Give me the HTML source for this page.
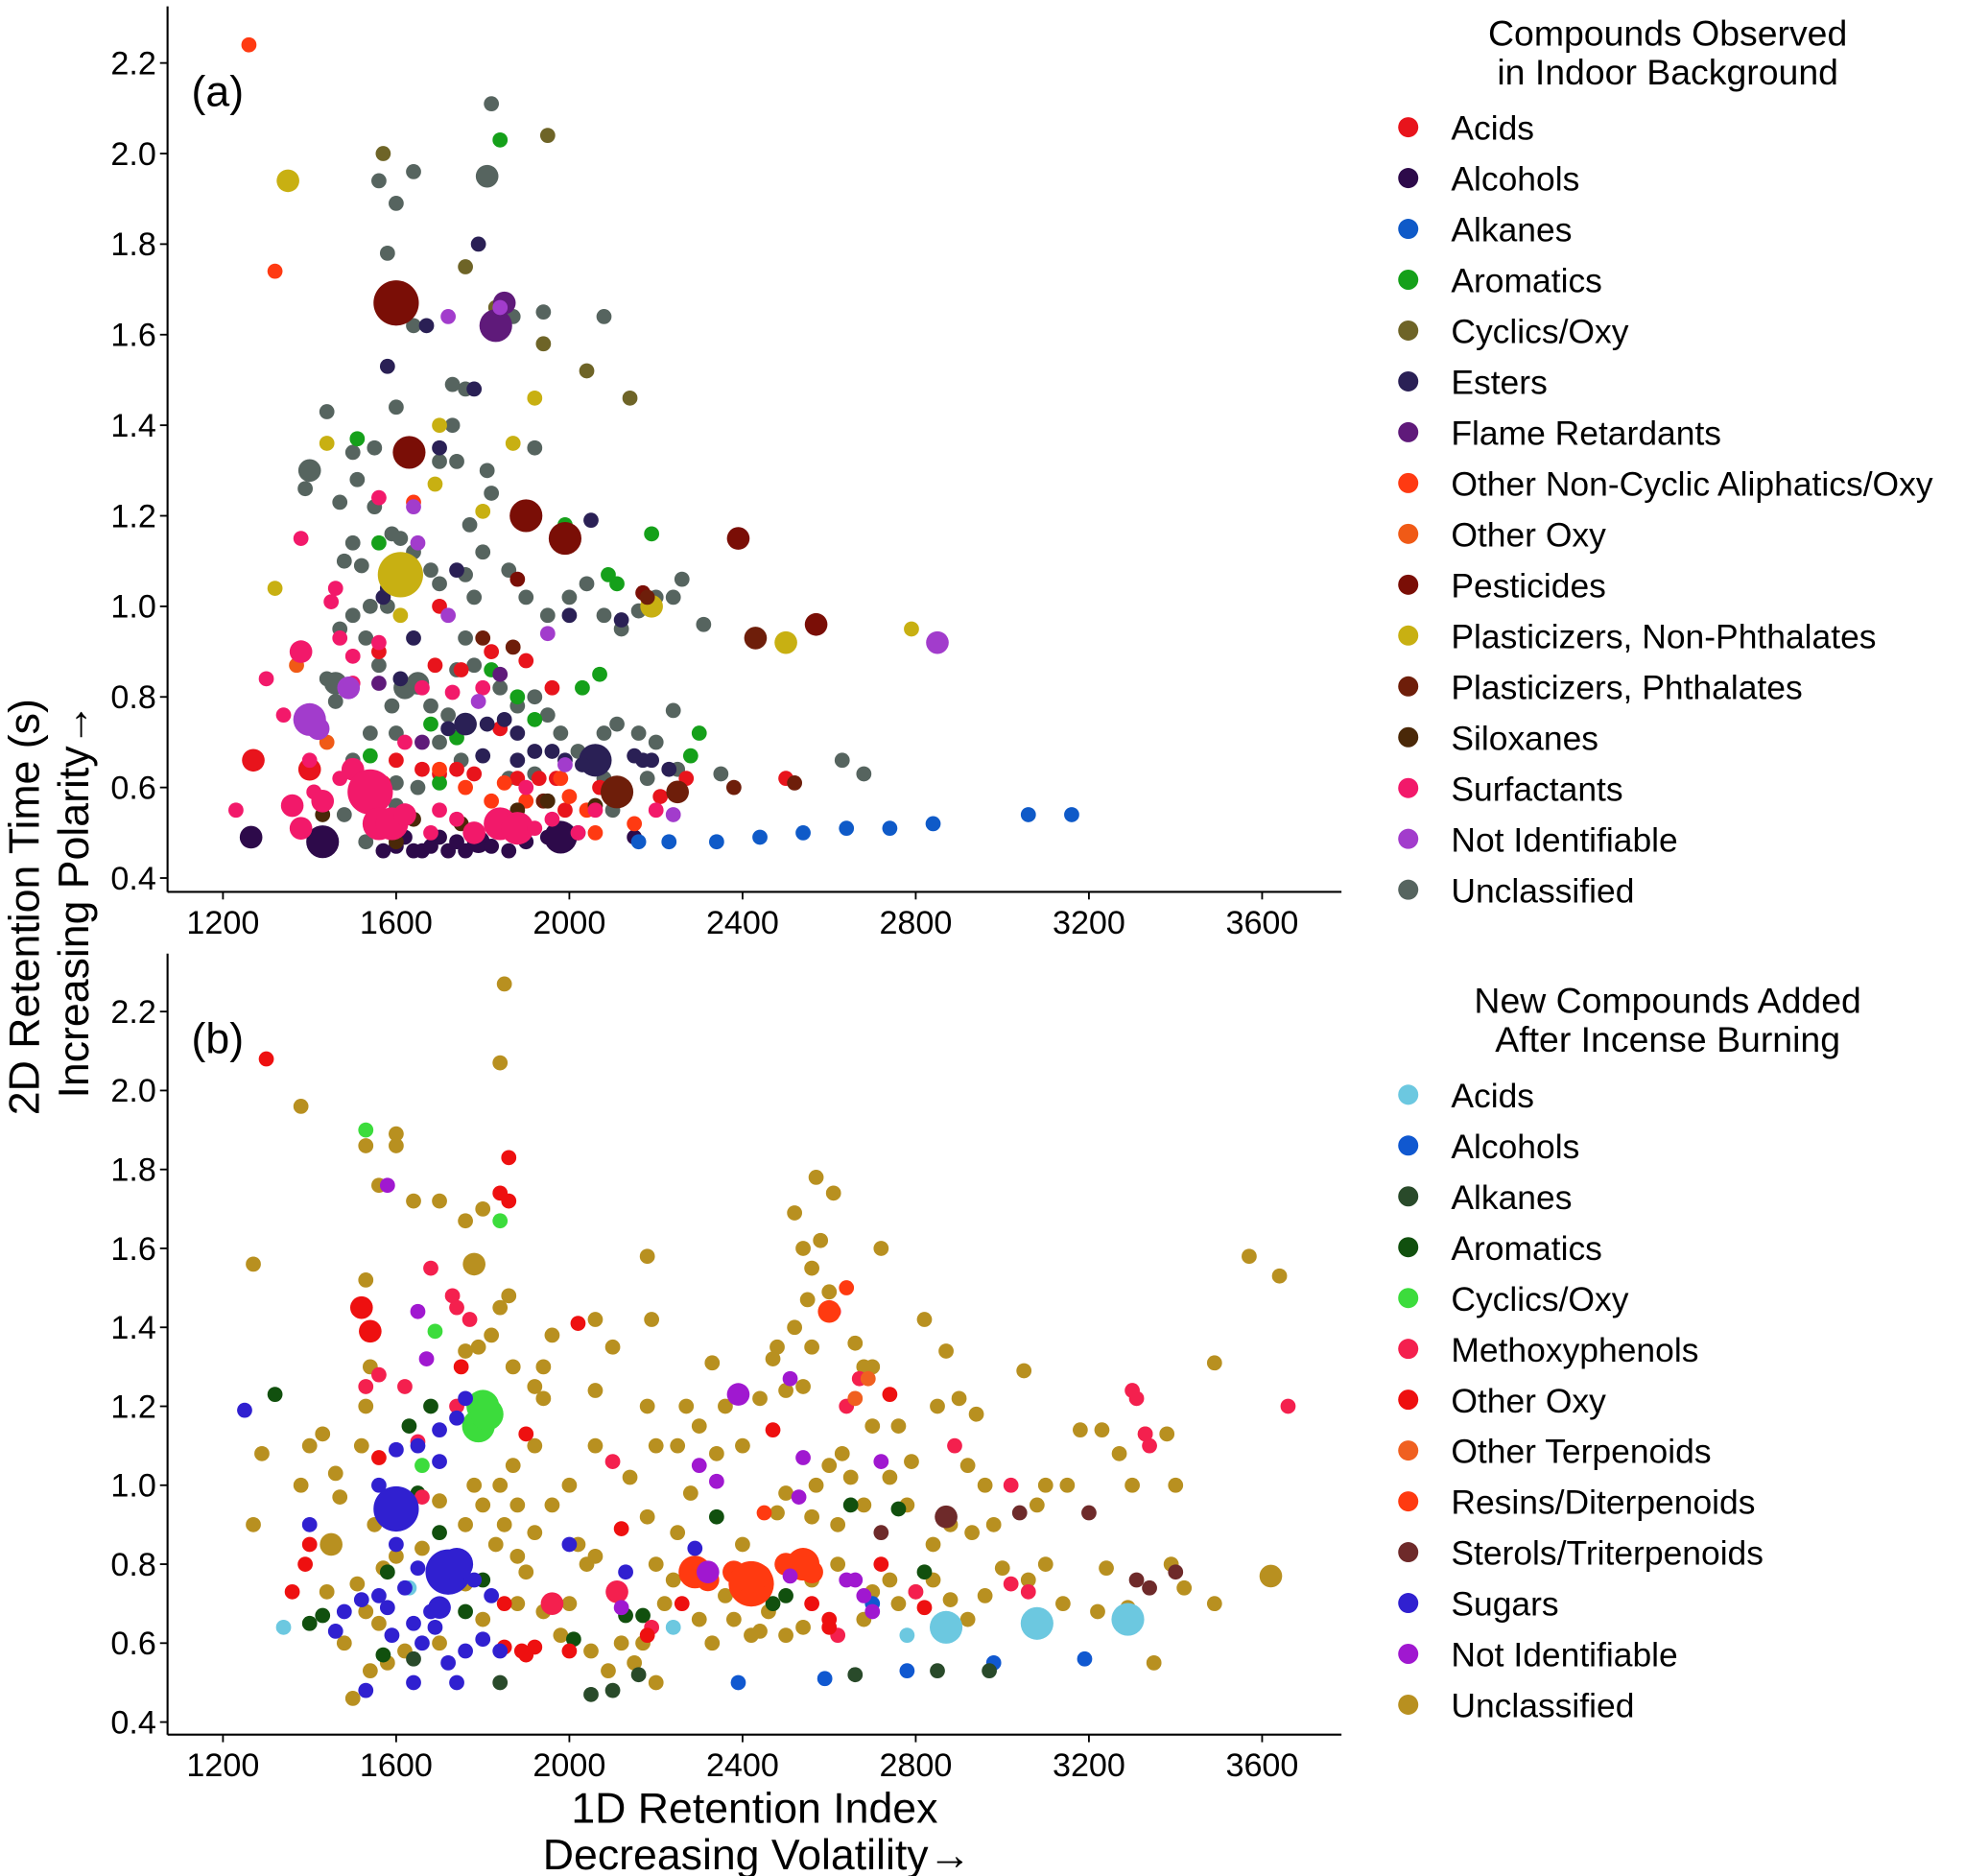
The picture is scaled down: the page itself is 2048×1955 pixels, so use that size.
<!DOCTYPE html>
<html><head><meta charset="utf-8"><style>
html,body{margin:0;padding:0;background:#fff;}
svg{display:block;font-family:"Liberation Sans",sans-serif;}
</style></head><body>
<svg id="chart" width="2048" height="1955" viewBox="0 0 1560 1489.2" xmlns="http://www.w3.org/2000/svg">
<rect width="1560" height="1489.2" fill="#fff"/>
<g id="g"></g>
</svg>
<script>
// ---------- data ----------
const xTicks = [1200,1600,2000,2400,2800,3200,3600];
const yTicks = [0.4,0.6,0.8,1.0,1.2,1.4,1.6,1.8,2.0,2.2];
const yTickLabels = ["0.4","0.6","0.8","1.0","1.2","1.4","1.6","1.8","2.0","2.2"];

const catsA = ["Acids","Alcohols","Alkanes","Aromatics","Cyclics/Oxy","Esters","Flame Retardants","Other Non-Cyclic Aliphatics/Oxy","Other Oxy","Pesticides","Plasticizers, Non-Phthalates","Plasticizers, Phthalates","Siloxanes","Surfactants","Not Identifiable","Unclassified"];
const colorsA = ["#e8141c","#2d0a4a","#0f5ac8","#15a01a","#6e6427","#2a2055","#5f1a7a","#ff3a12","#f05a16","#7a0e06","#c8b012","#6e1e0a","#4a2808","#f2196a","#a23ccc","#56645f"];
const catsB = ["Acids","Alcohols","Alkanes","Aromatics","Cyclics/Oxy","Methoxyphenols","Other Oxy","Other Terpenoids","Resins/Diterpenoids","Sterols/Triterpenoids","Sugars","Not Identifiable","Unclassified"];
const colorsB = ["#6cc8e0","#1058d0","#294a2a","#11500e","#3cdc3c","#f4204e","#ee1010","#f06020","#ff3a10","#6e2a2a","#3020d0","#a018d0","#b89020"];

// panel (a) series: [RI, 2D time, sizeClass]
const aUnclassified = [[1820,2.11],[1560,1.94],[1640,1.96],[1810,1.95,2],[1600,1.89],[1580,1.78],[1640,1.62],[1870,1.64],[1940,1.65],[2080,1.64],[1730,1.49],[1760,1.48],[1600,1.44],[1440,1.43],[1920,1.35],[1400,1.3,2],[1390,1.26],[1500,1.34],[1550,1.35],[1510,1.28],[1470,1.23],[1550,1.22],[1590,1.16],[1610,1.15],[1500,1.14],[1520,1.09],[1480,1.1],[1540,1.0],[1580,1.0],[1640,1.12],[1680,1.08],[1700,1.05],[1760,1.07],[1780,1.02],[1800,1.12],[1820,1.25],[1740,1.32],[1700,1.32],[1730,1.4],[1770,1.18],[1810,1.3],[1860,1.08],[1900,1.02],[1950,0.98],[2000,1.02],[2040,1.05],[2080,0.98],[2120,0.95],[2160,0.99],[2200,1.02],[2260,1.06],[2240,1.02],[2310,0.96],[1460,0.83,2],[1470,0.95],[1500,0.98],[1530,0.93],[1560,0.87],[1590,0.78],[1620,0.82,2],[1650,0.83,2],[1680,0.78],[1720,0.76],[1740,0.86],[1760,0.93],[1780,0.87],[1840,0.82],[1880,0.78],[1920,0.8],[1950,0.76],[1980,0.72],[2020,0.68],[2080,0.72],[2110,0.74],[2160,0.72],[2200,0.7],[2240,0.77],[2250,0.64],[2180,0.62],[2080,0.62],[2100,0.55],[2350,0.63],[2630,0.66],[2680,0.63],[1500,0.66],[1540,0.72],[1560,0.6],[1600,0.61],[1650,0.6],[1530,0.48],[1480,0.54],[1600,0.56],[1700,0.7],[1750,0.66],[1860,0.62],[1920,0.63],[1440,0.84],[1460,0.79],[1600,0.72]];
const aAcids = [[1270,0.66,2],[1400,0.64,2],[1570,0.61],[1600,0.66],[1660,0.64],[1700,0.63],[1740,0.64],[1780,0.63],[1840,0.73],[1880,0.62],[1930,0.62],[1970,0.62],[1900,0.88],[1960,0.82],[1690,0.87],[1750,0.86],[1820,0.9],[2070,0.6],[2210,0.58],[2270,0.62],[2500,0.62],[1620,1.05],[1700,1.0],[1560,0.9],[1990,0.55]];
const aAlcohols = [[1265,0.49,2],[1430,0.48,3],[1570,0.46],[1600,0.47],[1620,0.49],[1640,0.46],[1660,0.46],[1680,0.47],[1700,0.49],[1720,0.46],[1760,0.46],[1790,0.48,2],[1820,0.47],[1860,0.46],[1900,0.48],[1950,0.49],[1980,0.49,3],[2020,0.5],[2150,0.49],[1600,0.5],[1740,0.48]];
const aAlkanes = [[2160,0.48],[2230,0.48],[2340,0.48],[2440,0.49],[2540,0.5],[2640,0.51],[2740,0.51],[2840,0.52],[3060,0.54],[3160,0.54]];
const aAromatics = [[1840,2.03],[1510,1.37],[1560,1.14],[1990,1.18],[2190,1.16],[2090,1.07],[2110,1.05],[2070,0.85],[2030,0.82],[1880,0.8],[1820,0.86],[1740,0.71],[1680,0.74],[2300,0.72],[2280,0.67],[2110,0.6],[1540,0.67],[1700,0.61],[1920,0.75],[1860,0.53]];
const aCyclics = [[1570,2.0],[1950,2.04],[1760,1.75],[1830,1.66],[1940,1.58],[2040,1.52],[2140,1.46]];
const aEsters = [[1790,1.8],[1670,1.62],[1580,1.53],[1700,1.35],[1780,1.48],[1810,0.74],[1760,0.74,2],[1720,0.73],[1850,0.75],[1880,0.72],[2060,0.66,3],[2030,0.65],[1990,0.66],[1920,0.68],[1960,0.68],[1880,0.66],[1800,0.67],[1740,1.08],[2050,1.19],[2000,0.98],[2120,0.97],[2150,0.67],[2170,0.66],[2190,0.66],[2230,0.64],[1580,1.04],[1570,1.02],[1640,0.93],[1610,0.84]];
const aFlame = [[1830,1.62,3],[1850,1.67,2],[1560,0.83],[1840,0.85],[1660,0.7]];
const aNonCyclic = [[1260,2.24],[1320,1.74],[1640,1.23],[1700,0.64],[1760,0.6],[1820,0.57],[1850,0.61],[1900,0.57],[2000,0.58],[2040,0.55],[2060,0.5],[2150,0.52],[1980,0.62]];
const aOtherOxy = [[1370,0.87],[1440,0.7]];
const aPesticides = [[1600,1.67,4],[1630,1.34,3],[1900,1.2,3],[1990,1.15,3],[2390,1.15,2],[1880,1.06],[2570,0.96,2],[2170,1.03]];
const aPlastNP = [[1350,1.94,2],[1610,1.07,4],[1320,1.04],[1610,0.98],[1690,1.27],[1700,1.4],[1800,1.21],[1920,1.46],[2190,1.0,2],[2500,0.92,2],[2790,0.95],[1870,1.36],[1440,1.36]];
const aPlastPh = [[2430,0.93,2],[2520,0.61],[2380,0.6],[2250,0.59,2],[2110,0.59,3],[1870,0.91],[1800,0.93],[1940,0.57],[2180,1.02]];
const aSiloxanes = [[1430,0.54],[1640,0.53],[1950,0.57],[1880,0.55],[1600,0.48],[1750,0.52],[2060,0.56]];
const aSurfactants = [[1230,0.55],[1300,0.84],[1340,0.76],[1380,0.9,2],[1380,1.15],[1450,1.01],[1460,1.04],[1470,0.93],[1400,0.66],[1410,0.59],[1360,0.56,2],[1430,0.57,2],[1500,0.64,2],[1540,0.59,4],[1560,0.52,3],[1590,0.52,3],[1620,0.54,2],[1680,0.5],[1700,0.55],[1740,0.53],[1780,0.5,2],[1840,0.52,3],[1880,0.51,3],[1920,0.51],[1960,0.53],[2020,0.5],[2060,0.55],[1500,0.83],[1500,0.89],[1560,1.24],[1560,0.92],[1660,0.82],[1730,0.81],[1620,0.7],[1800,0.82],[1900,0.6],[2200,0.55],[1380,0.51,2],[1470,0.62]];
const aNotId = [[1840,1.66],[1720,1.64],[1400,0.75,3],[1420,0.73,2],[1490,0.82,2],[1650,1.14],[1720,0.98],[1790,0.79],[1950,0.94],[2850,0.92,2],[2240,0.54],[1990,0.65],[1640,1.22]];

// panel (b) series
const bUnclassified = [[1380,1.96],[1270,1.56],[1290,1.08],[1270,0.9],[1530,1.86],[1530,1.52],[1560,1.76],[1600,1.86],[1600,1.89],[1640,1.72],[1700,1.72],[1760,1.67],[1780,1.56,2],[1850,2.27],[1840,2.07],[1800,1.7],[1860,1.48],[1840,1.45],[1760,1.34],[1820,1.38],[1790,1.35],[1870,1.3],[1920,1.25],[1940,1.3],[1960,1.38],[2060,1.42],[2190,1.42],[2180,1.58],[2060,1.24],[1940,1.22],[1920,1.1],[1870,1.05],[1840,1.0],[1880,0.95],[1920,0.88],[1960,0.95],[2000,1.0],[2020,0.85],[2040,0.8],[2060,0.82],[1900,0.78],[1880,0.7],[1940,0.68],[1980,0.62],[2050,0.58],[2090,0.53],[2150,0.55],[2200,0.5],[2170,0.6],[2220,0.7],[2240,0.76],[2250,0.88],[2280,0.98],[2250,1.1],[2270,1.2],[2300,1.15],[2360,1.2],[2330,1.31],[2440,1.22],[2470,1.32],[2480,1.35],[2500,1.24],[2540,1.25],[2560,1.35],[2520,1.4],[2550,1.47],[2560,1.55],[2580,1.62],[2570,1.78],[2610,1.74],[2520,1.69],[2540,1.6],[2600,1.49],[2660,1.36],[2680,1.3],[2700,1.3],[2720,1.6],[2700,1.15],[2760,1.15],[2790,1.06],[2820,1.42],[2850,1.2],[2870,1.34],[2900,1.22],[2940,1.18],[2920,1.05],[2960,1.0],[3050,1.29],[2980,0.9],[3080,0.95],[3100,1.0],[3150,1.0],[3180,1.14],[3230,1.14],[3270,1.08],[3300,1.0],[3330,1.13],[3380,1.13],[3400,1.0],[3490,1.31],[3570,1.58],[3640,1.53],[3620,0.77,2],[3490,0.7],[3420,0.74],[3390,0.8],[3350,0.55],[3290,0.69],[3240,0.79],[3220,0.68],[3140,0.7],[3100,0.8],[3060,0.76],[3000,0.79],[2960,0.72],[2920,0.66],[2880,0.71],[2840,0.76],[2800,0.73],[2760,0.7],[2740,0.76],[2700,0.73],[2680,0.66],[2620,0.8],[2560,0.76],[2540,0.64],[2500,0.62],[2460,0.68],[2440,0.63],[2420,0.62],[2380,0.66],[2330,0.6],[2300,0.66],[2360,0.72],[2400,0.85],[2480,0.93],[2500,0.98],[2570,1.0],[2600,1.05],[2630,1.08],[2650,1.02],[2560,0.92],[2620,0.9],[2680,0.95],[2740,1.02],[2780,0.95],[2840,0.85],[2880,0.9],[2930,0.88],[2400,1.1],[2340,1.08],[2180,0.92],[2140,1.02],[1500,0.46],[1540,0.53],[1580,0.55],[1480,0.6],[1440,0.73],[1450,0.85,2],[1470,0.97],[1460,1.03],[1400,1.1],[1430,1.13],[1380,1.0],[1520,1.1],[1530,1.2],[1540,1.3],[1550,0.9],[1510,0.75],[1530,0.68],[1570,0.79],[1600,0.82],[1660,0.84],[1700,0.96],[1760,0.9],[1780,1.0],[1800,0.95],[1830,0.85],[1850,0.9],[1880,0.82],[1760,0.75],[1800,0.66],[1700,0.6],[1620,0.58],[1560,0.65],[2060,1.1],[2100,1.35],[2000,0.7],[2120,0.6],[2200,0.8],[2180,1.2],[2200,1.1]];
const bAcids = [[1340,0.64],[1630,0.74],[2240,0.64],[2780,0.62],[2870,0.64,3],[3080,0.65,3],[3290,0.66,3]];
const bAlcohols = [[2390,0.5],[2590,0.51],[2780,0.53],[2980,0.55],[3190,0.56],[2700,0.7]];
const bAlkanes = [[2050,0.47],[2100,0.48],[2160,0.52],[2660,0.52],[2850,0.53],[2970,0.53],[1840,0.5],[1640,0.56]];
const bAromatics = [[1320,1.23],[1400,0.65],[1430,0.67],[1570,0.57],[1580,0.78],[1630,1.15],[1680,1.2],[1650,0.98],[1800,0.76],[2010,0.61],[2130,0.67],[2170,0.67],[2340,0.92],[2470,0.7],[2650,0.95],[2760,0.94],[2820,0.78],[2500,0.72],[1700,0.88],[1760,0.68]];
const bCyclics = [[1530,1.9],[1840,1.67],[1690,1.39],[1800,1.2,3],[1790,1.15,3],[1810,1.18,3],[1660,1.05]];
const bMethoxy = [[1680,1.55],[1730,1.48],[1740,1.2],[1620,1.25],[1650,1.11],[1530,1.25],[1560,1.28],[1740,1.45],[1770,1.42],[1960,0.7,2],[2110,0.73,2],[2100,1.06],[2610,1.44],[2640,1.2],[2670,1.27],[2890,1.1],[3020,1.0],[3020,0.75],[3060,0.73],[3300,1.24],[3310,1.22],[3330,1.13],[3340,1.1],[3660,1.2],[2190,0.64],[2620,0.62],[2800,0.73],[1660,0.97]];
const bOtherOxy = [[1300,2.08],[1860,1.83],[1840,1.74],[1860,1.72],[1520,1.45,2],[1540,1.39,2],[1360,0.73],[1400,0.85],[1390,0.8],[1750,1.3],[1850,0.7],[1850,0.59],[1890,0.58],[1900,0.57],[1920,0.59],[2000,0.58],[2120,0.89],[2180,0.62],[2560,0.7],[2600,0.64],[2600,0.66],[2470,1.14],[2740,1.23],[2720,0.8],[2820,0.69],[2020,1.41],[1560,1.07],[1900,1.13],[2260,0.7]];
const bTerpenoids = [[2690,1.27],[2660,1.22]];
const bResins = [[2290,0.78,3],[2320,0.76,2],[2380,0.78,2],[2420,0.75,4],[2440,0.77,2],[2500,0.8,2],[2540,0.8,3],[2560,0.78,2],[2600,1.44,2],[2640,1.5],[2450,0.93],[2410,0.72]];
const bSterols = [[2720,0.88],[2870,0.92,2],[3040,0.93],[3200,0.93],[3310,0.76],[3340,0.74],[3400,0.78]];
const bSugars = [[1250,1.19],[1400,0.9],[1460,0.63],[1480,0.68],[1520,0.71],[1530,0.48],[1560,0.72],[1580,0.69],[1600,0.94,4],[1620,0.74],[1640,0.65],[1640,0.5],[1660,0.6],[1680,0.68],[1700,0.69,2],[1720,0.78,4],[1740,0.8,3],[1720,0.55],[1740,0.5],[1760,0.58],[1780,0.76],[1800,0.61],[1700,1.06],[1700,1.14],[1740,1.17],[1760,1.22],[1600,1.09],[1560,1.0],[1650,1.1],[1690,0.64],[1840,0.58],[1820,0.72],[1650,0.79],[1600,0.85],[2000,0.85],[2290,0.84],[2130,0.78],[1590,0.62]];
const bNotId = [[1580,1.76],[1650,1.44],[1670,1.32],[2390,1.23,2],[2300,1.05],[2340,1.01],[2540,1.07],[2510,1.27],[2720,1.06],[2530,0.97],[2320,0.78,2],[2120,0.69],[2660,0.76],[2680,0.72],[2640,0.76],[2510,0.77],[2700,0.68]];

const seriesA = [[aUnclassified,15],[aAcids,0],[aAlcohols,1],[aAlkanes,2],[aAromatics,3],[aCyclics,4],[aEsters,5],[aFlame,6],[aNonCyclic,7],[aOtherOxy,8],[aPesticides,9],[aPlastNP,10],[aPlastPh,11],[aSiloxanes,12],[aSurfactants,13],[aNotId,14]];
const seriesB = [[bUnclassified,12],[bAcids,0],[bAlcohols,1],[bAlkanes,2],[bAromatics,3],[bCyclics,4],[bMethoxy,5],[bOtherOxy,6],[bTerpenoids,7],[bResins,8],[bSterols,9],[bSugars,10],[bNotId,11]];

// ---------- drawing ----------
const NS = "http://www.w3.org/2000/svg";
const root = document.getElementById("g");
function el(tag, attrs, parent, text){
  const e = document.createElementNS(NS, tag);
  for (const k in attrs) e.setAttribute(k, attrs[k]);
  if (text !== undefined) e.textContent = text;
  (parent||root).appendChild(e);
  return e;
}
const X0 = 133, X1 = 1065;
const xScale = v => 177 + (v - 1200) * (137.5 / 400);
const radii = [0, 6, 9, 13, 18];

function panel(top, bottom, y04, y22, series, colors, label, pname){
  const yScale = v => y04 - (v - 0.4) * (y04 - y22) / 1.8;
  const g = el("g", {});
  
  
  const pts = el("g", {}, g);
  
  
  series.forEach(([arr, ci]) => {
    arr.forEach(p => {
      const c = el("circle", {cx: xScale(p[0]).toFixed(1), cy: yScale(p[1]).toFixed(1), r: radii[p[2]||1], fill: colors[ci]}, pts);
      
      
    });
  });
  const ax = el("line", {x1:X0, y1:top, x2:X0, y2:bottom, stroke:"#000", "stroke-width":1.6}, g);
  
  
  const bx = el("line", {x1:X0, y1:bottom, x2:X1, y2:bottom, stroke:"#000", "stroke-width":1.6}, g);
  
  
  yTicks.forEach((t, i) => {
    const y = yScale(t);
    el("line", {x1:X0-6, y1:y, x2:X0, y2:y, stroke:"#000", "stroke-width":1.4}, g);
    const tl = el("text", {x:X0-9, y:y+9, "text-anchor":"end", "font-size":26, fill:"#000"}, g, yTickLabels[i]);
    
    
  });
  xTicks.forEach(t => {
    const x = xScale(t);
    el("line", {x1:x, y1:bottom, x2:x, y2:bottom+6, stroke:"#000", "stroke-width":1.4}, g);
    const tl = el("text", {x:x, y:bottom+33, "text-anchor":"middle", "font-size":26, fill:"#000"}, g, String(t));
    
    
  });
  const pl = el("text", {x:152, y:top+79, "font-size":34, fill:"#000"}, g, label);
  
  
}
panel(5, 708, 697, 50, seriesA, colorsA, "(a)", "panel-a");
panel(757, 1377, 1367, 803, seriesB, colorsB, "(b)", "panel-b");

function legend(titleLines, titleY, firstY, cats, colors, name){
  const g = el("g", {});
  
  
  titleLines.forEach((t, i) => {
    const tt = el("text", {x:1324, y:titleY + i*31, "text-anchor":"middle", "font-size":28.5, fill:"#000"}, g, t);
    
    
  });
  cats.forEach((c, i) => {
    const y = firstY + i * 40.35;
    const d = el("circle", {cx:1118, cy:y-5, r:8, fill:colors[i]}, g);
    
    
    const t = el("text", {x:1152, y:y+5, "font-size":27, fill:"#000"}, g, c);
    
    
  });
}
legend(["Compounds Observed", "  in Indoor Background"], 36, 106, catsA, colorsA, "legend-a");
legend(["New Compounds Added", "  After Incense Burning"], 804, 874, catsB, colorsB, "legend-b");

const yt1 = el("text", {x:0, y:0, transform:"translate(31,720) rotate(-90)", "text-anchor":"middle", "font-size":34, fill:"#000"}, root, "2D Retention Time (s)");


const yt2 = el("text", {x:0, y:0, transform:"translate(70,715) rotate(-90)", "text-anchor":"middle", "font-size":34, fill:"#000"}, root, "Increasing Polarity\u2192");


const xt1 = el("text", {x:599, y:1447, "text-anchor":"middle", "font-size":34, fill:"#000"}, root, "1D Retention Index");


const xt2 = el("text", {x:601, y:1484, "text-anchor":"middle", "font-size":34, fill:"#000"}, root, "Decreasing Volatility\u2192");


</script>
</body></html>
